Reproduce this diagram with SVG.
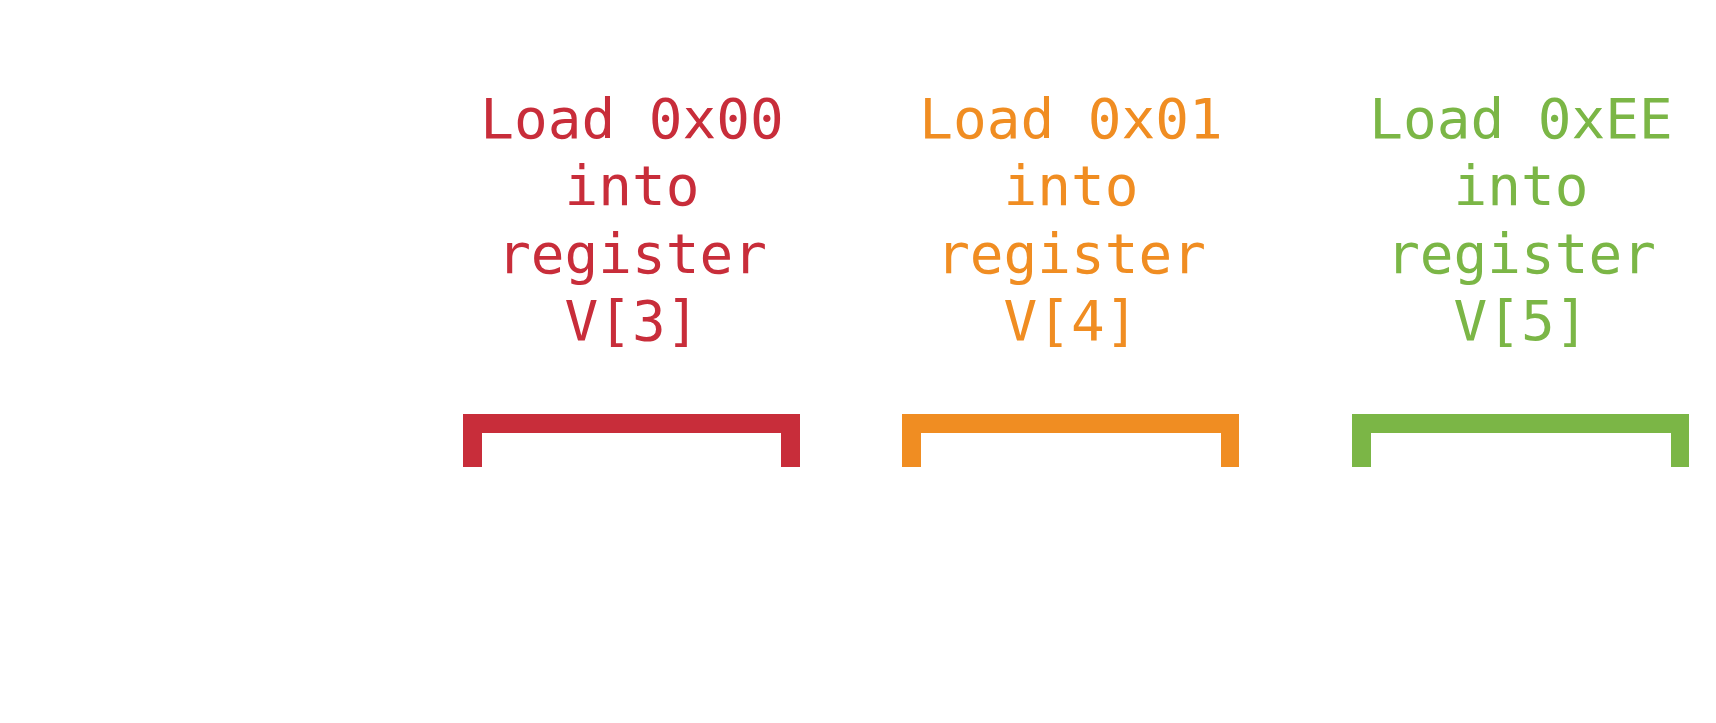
<svg xmlns="http://www.w3.org/2000/svg" width="1716" height="723" viewBox="0 0 1716 723">
<style>
text{font-family:"DejaVu Sans Mono",monospace;font-size:56px;text-anchor:middle}
.r{fill:#C82D3A}.o{fill:#F08D22}.g{fill:#7BB646}
</style>
<rect width="1716" height="723" fill="#fff"/>
<g id="node-v3">
<text class="r" x="632" y="138">Load 0x00</text>
<text class="r" x="632" y="205">into</text>
<text class="r" x="632" y="273">register</text>
<text class="r" x="632" y="340">V[3]</text>
<path class="r" d="M463 414H800V467H781V433H482V467H463Z"/>
</g>
<g id="node-v4">
<text class="o" x="1071" y="138">Load 0x01</text>
<text class="o" x="1071" y="205">into</text>
<text class="o" x="1071" y="273">register</text>
<text class="o" x="1071" y="340">V[4]</text>
<path class="o" d="M902 414H1239V467H1221V433H921V467H902Z"/>
</g>
<g id="node-v5">
<text class="g" x="1521" y="138">Load 0xEE</text>
<text class="g" x="1521" y="205">into</text>
<text class="g" x="1521" y="273">register</text>
<text class="g" x="1521" y="340">V[5]</text>
<path class="g" d="M1352 414H1689V467H1671V433H1371V467H1352Z"/>
</g>
<g id="connectors"></g>
</svg>
